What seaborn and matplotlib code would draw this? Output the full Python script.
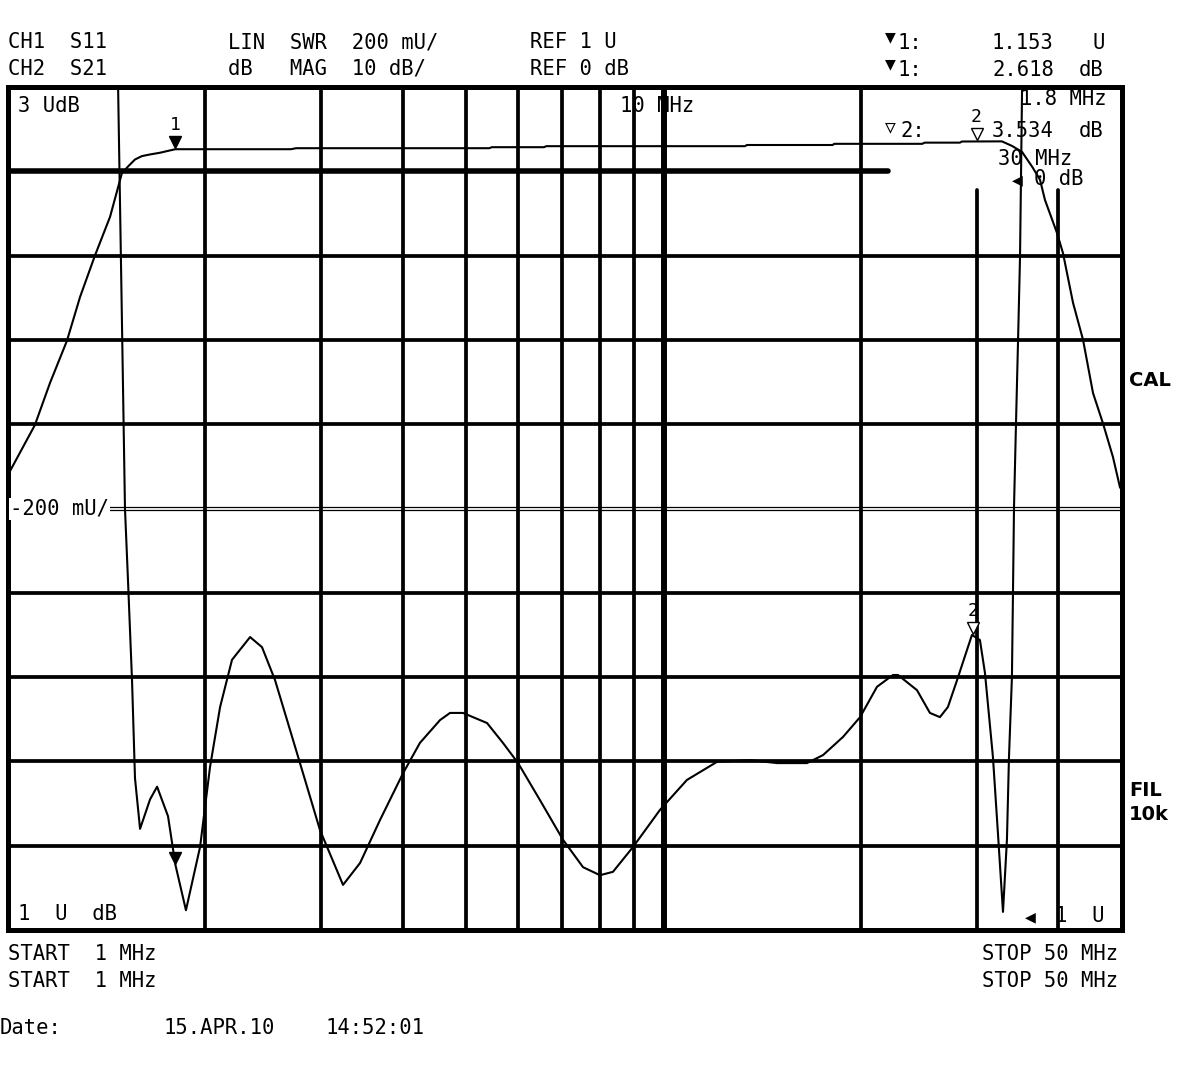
import numpy as np
import pandas as pd
import matplotlib
matplotlib.use("Agg")
import matplotlib.pyplot as plt
import matplotlib.transforms as mtrans
import seaborn as sns

# CH2: S21 magnitude (dB), 10 dB/div, REF 0 dB
s21_freq = [1.000, 1.099, 1.159, 1.230, 1.288, 1.357, 1.431, 1.492, 1.530, 1.562,
            1.600, 1.647, 1.705, 1.760, 1.800, 2.700, 2.750, 5.420, 5.470, 6.570,
            6.620, 13.30, 13.40, 18.10, 18.20, 24.80, 25.00, 28.30, 28.50, 32.80,
            34.00, 35.20, 36.50, 37.49, 38.15, 39.79, 40.64, 42.10, 43.61, 45.16,
            46.77, 48.44, 49.65, 50.00]
s21_db = [-36.0, -30.1, -25.1, -20.1, -14.9, -10.0, -5.4, -0.2, 0.7, 1.4,
          1.8, 2.0, 2.2, 2.45, 2.62, 2.62, 2.74, 2.74, 2.86, 2.86,
          2.98, 2.98, 3.12, 3.12, 3.26, 3.26, 3.40, 3.40, 3.534, 3.55,
          3.0, 2.3, 0.5, -1.0, -3.4, -7.3, -9.7, -15.6, -20.0, -26.3,
          -29.9, -33.9, -37.5, -37.8]

# CH1: S11 as SWR (linear), 200 mU/div, REF 1 U
s11_freq = [1.000, 1.200, 1.400, 1.450, 1.472, 1.490, 1.508, 1.524, 1.546, 1.562,
            1.590, 1.647, 1.688, 1.754, 1.800, 1.868, 1.963, 2.033, 2.106, 2.196,
            2.340, 2.440, 2.554, 2.693, 2.838, 2.991, 3.243, 3.443, 3.693, 4.004,
            4.249, 4.559, 4.722, 4.942, 5.378, 5.686, 5.997, 6.477, 7.022, 7.534,
            7.995, 8.368, 8.980, 9.871, 10.85, 12.06, 13.54, 14.89, 16.54, 17.50,
            18.77, 19.93, 21.15, 22.37, 22.77, 24.34, 25.47, 26.38, 27.13, 28.02,
            29.52, 30.36, 30.90, 31.78, 32.34, 32.92, 33.38, 33.62, 33.97, 34.10,
            34.22, 34.46, 34.71, 34.95, 35.20, 36.00, 40.00, 50.00]
s11_swr = [6.00, 5.00, 4.00, 3.60, 3.00, 2.50, 2.00, 1.83, 1.59, 1.36,
           1.24, 1.31, 1.34, 1.27, 1.155, 1.047, 1.197, 1.387, 1.529, 1.641,
           1.695, 1.671, 1.593, 1.474, 1.356, 1.237, 1.107, 1.159, 1.261, 1.372,
           1.444, 1.498, 1.515, 1.515, 1.491, 1.444, 1.396, 1.308, 1.214, 1.149,
           1.130, 1.138, 1.197, 1.285, 1.356, 1.399, 1.403, 1.396, 1.396, 1.415,
           1.458, 1.505, 1.577, 1.605, 1.605, 1.569, 1.515, 1.505, 1.529, 1.593,
           1.700, 1.688, 1.610, 1.410, 1.230, 1.043, 1.214, 1.410, 1.600, 1.807,
           2.004, 2.203, 2.400, 2.597, 2.993, 3.600, 5.000, 6.000]

vgrid_freq = [2, 3, 4, 5, 6, 7, 8, 9, 20, 30, 40]

# ---------------- scales: screen divisions (0 bottom .. 10 top) ----------------
S21_REF_DIV, S21_PER_DIV = 9.0, 10.0     # REF 0 dB at 9th division
S11_REF_DIV, S11_REF, S11_PER_DIV = 0.0, 1.0, 0.2

df21 = pd.DataFrame({"f": s21_freq,
                     "div": S21_REF_DIV + np.array(s21_db) / S21_PER_DIV})
df11 = pd.DataFrame({"f": s11_freq,
                     "div": S11_REF_DIV + (np.array(s11_swr) - S11_REF) / S11_PER_DIV})

W, H = 1181, 1090
sns.set_theme(style="white")
plt.rcParams["font.family"] = ["DejaVu Sans Mono", "DejaVu Sans"]
plt.rcParams["text.color"] = "black"

fig = plt.figure(figsize=(W / 100, H / 100), dpi=100, facecolor="white")
L, R, T, B = 8, 1122, 87, 930
ax = fig.add_axes([L / W, 1 - B / H, (R - L) / W, (B - T) / H])
ax.set_xscale("log")
ax.set_xlim(1, 50)
ax.set_ylim(0, 10)
ax.set_xticks([]); ax.set_yticks([])
ax.xaxis.set_minor_locator(matplotlib.ticker.NullLocator())
ax.set_facecolor("white")
for sp in ax.spines.values():
    sp.set_color("black"); sp.set_linewidth(3.6); sp.set_zorder(5)

GW = 2.7
blank_y = (B - 190) / (B - T)   # top of text-blanked area on the right
blank_x = (888 - L) / (R - L)
for d in [1, 2, 3, 4, 6, 7, 8]:
    ax.axhline(d, color="black", lw=GW, zorder=1)
# double thin line at the centre division
for off in (-0.02, 0.02):
    ax.axhline(5 + off, color="black", lw=0.9, zorder=1)
# thick reference line for CH2 (0 dB)
ax.axhline(9, xmin=0, xmax=blank_x, color="black", lw=4.0, zorder=1)
for fq in vgrid_freq:
    ymax = blank_y if fq >= 30 else 1.0
    ax.axvline(fq, ymin=0, ymax=ymax, color="black", lw=GW, zorder=1)
ax.axvline(10, color="black", lw=4.3, zorder=1)

# traces
sns.lineplot(data=df21, x="f", y="div", ax=ax, color="black", lw=1.5,
             sort=False, estimator=None, zorder=3, legend=False)
sns.lineplot(data=df11, x="f", y="div", ax=ax, color="black", lw=1.5,
             sort=False, estimator=None, zorder=3, legend=False)
ax.set_xlabel(""); ax.set_ylabel("")
ax.set_xlim(1, 50); ax.set_ylim(0, 10)

# markers
def lf(x, xs, ys):
    return np.interp(np.log10(x), np.log10(xs), ys)

up = mtrans.offset_copy(ax.transData, fig=fig, x=0, y=7, units="dots")
m1_21 = lf(1.8, s21_freq, df21["div"])
m2_21 = lf(30.0, s21_freq, df21["div"])
m1_11 = lf(1.8, s11_freq, df11["div"])
m2_11 = lf(29.6, s11_freq, df11["div"])
ax.plot([1.8], [m1_21], marker="v", ms=9, color="black", transform=up, zorder=4)
ax.plot([1.8], [m1_11], marker="v", ms=9, color="black", transform=up, zorder=4)
ax.plot([30.0], [m2_21], marker="v", ms=8, mfc="white", mec="black", mew=1,
        transform=up, zorder=4)
ax.plot([29.6], [m2_11], marker="v", ms=8, mfc="white", mec="black", mew=1,
        transform=up, zorder=4)
lab = mtrans.offset_copy(ax.transData, fig=fig, x=0, y=15, units="dots")
ax.text(1.8, m1_21, "1", transform=lab, ha="center", va="bottom", fontsize=13)
ax.text(30.0, m2_21, "2", transform=lab, ha="center", va="bottom", fontsize=13)
ax.text(29.6, m2_11, "2", transform=lab, ha="center", va="bottom", fontsize=13)

# ---------------- texts ----------------
FS = 14.8
def T_(x, y, s, ha="left", fs=FS, **kw):
    fig.text(x / W, 1 - y / H, s, ha=ha, va="baseline", fontsize=fs, **kw)

T_(8, 48, "CH1  S11"); T_(8, 75, "CH2  S21")
T_(228, 48, "LIN  SWR  200 mU/"); T_(228, 75, "dB   MAG  10 dB/")
T_(530, 48, "REF 1 U"); T_(530, 75, "REF 0 dB")
T_(885, 42, "▼", fs=13); T_(898, 49, "1:")
T_(885, 69, "▼", fs=13); T_(898, 76, "1:")
T_(992, 49, "1.153"); T_(1092, 49, "U")
T_(992, 76, "2.618"); T_(1079, 76, "dB")

# inside the graticule
T_(18, 112, "3 UdB")
T_(18, 920, "1  U  dB")
fig.text(10 / W, 1 - 515 / H, "-200 mU/", ha="left", va="baseline", fontsize=FS,
         bbox=dict(facecolor="white", edgecolor="none", pad=0.5), zorder=6)
T_(620, 112, "10 MHz")
T_(1107, 105, "1.8 MHz", ha="right")
T_(885, 132, "▽", fs=13); T_(900, 137, "2:")
T_(992, 137, "3.534"); T_(1079, 137, "dB")
T_(998, 165, "30 MHz")
T_(1012, 185, "◀", fs=13); T_(1034, 185, "0 dB")
T_(1025, 922, "◀", fs=13); T_(1055, 922, "1  U")

# right margin
for yy, s in [(386, "CAL"), (796, "FIL"), (820, "10k")]:
    fig.text(1129 / W, 1 - yy / H, s, ha="left", va="baseline", fontsize=14,
             fontweight="bold", family=["DejaVu Sans"])

# bottom
T_(8, 960, "START  1 MHz"); T_(8, 987, "START  1 MHz")
T_(1118, 960, "STOP 50 MHz", ha="right"); T_(1118, 987, "STOP 50 MHz", ha="right")
T_(0, 1034, "Date:"); T_(163, 1034, "15.APR.10"); T_(325, 1034, "14:52:01")

fig.savefig("out.png", dpi=100, facecolor="white")
